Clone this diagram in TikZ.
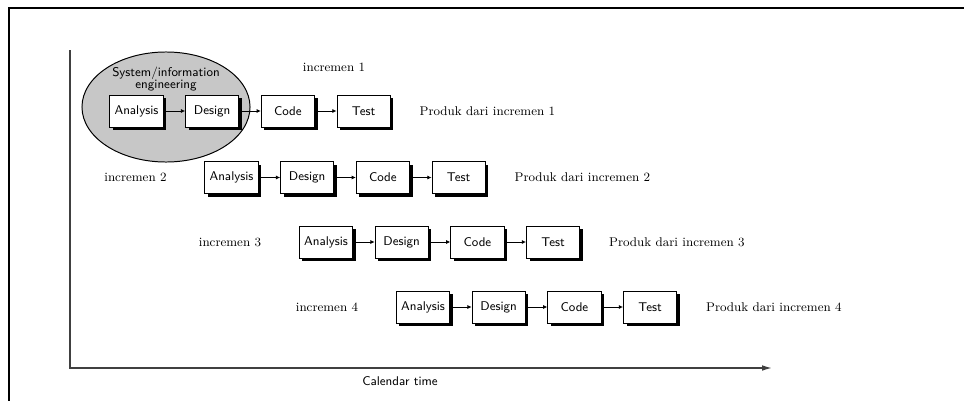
\documentclass[tikz,border=0pt]{standalone}
\usepackage{tikz}
\usetikzlibrary{arrows.meta,positioning,shadows,shapes.geometric}

\begin{document}
\begin{tikzpicture}[x=0.025cm, y=-0.025cm, >=Latex, every node/.style={font=\small},
  phasebox/.style={draw, line width=0.7pt, fill=white, minimum width=1.33cm, minimum height=0.8cm, inner sep=1pt,
    font=\small\sffamily, drop shadow={opacity=1, fill=black, shadow xshift=2.2pt, shadow yshift=-2.2pt}},
  link/.style={-{Latex[length=3pt,width=3pt]}, line width=0.7pt},
  axis/.style={line width=1pt, black!75}]
\useasboundingbox (0,0) rectangle (964,401);
% frame round the figure
\draw[line width=1.3pt] (964,8) -- (9,8) -- (9,401);
% axes
\coordinate (ytop) at (70,50);
\coordinate (origin) at (70,368);
\coordinate (xend) at (772,368);
\draw[axis, -{Latex[length=7pt,width=4pt]}] (ytop) -- (origin) -- (xend);
\node[font=\small\sffamily] (caltime) at (400,381) {Calendar time};
% system/information engineering
\node[ellipse, draw, line width=0.7pt, fill=black!22, minimum width=4.2cm, minimum height=2.75cm] (sie) at (166,107) {};
\node[font=\small\sffamily, align=center] (sietext) at (166,79) {System/information\\[-3pt]engineering};
% increments
\foreach \r/\x/\y in {1/136.5/111, 2/231.5/177.5, 3/326/242, 4/423/307} {
    \foreach \p [count=\i from 0] in {Analysis,Design,Code,Test}
        \node[phasebox] (b\r\i) at (\x+75.7*\i,\y) {\p};
    \foreach \i/\j in {0/1,1/2,2/3}
        \draw[link] (b\r\i) -- (b\r\j);
    \node[anchor=west] (prod\r) at ([xshift=0.6cm]b\r3.east) {Produk dari incremen \r};
}
\node (inc1) at (334,67) {incremen 1};
\foreach \r in {2,3,4}
    \node (inc\r) at ([xshift=-2.4cm]b\r0.center) {incremen \r};
\end{tikzpicture}
\end{document}
